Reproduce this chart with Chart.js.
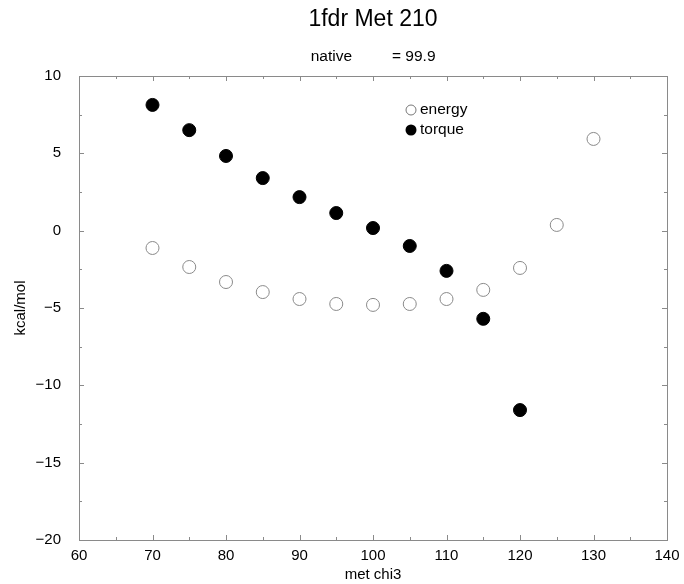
<!DOCTYPE html>
<html>
<head>
<meta charset="utf-8">
<script src="https://cdn.jsdelivr.net/npm/chart.js@4"></script>
<style>
html,body{margin:0;padding:0;background:#fff;}
#wrap{width:684px;height:584px;position:relative;}
</style>
</head>
<body>
<div id="wrap"><canvas id="c" width="684" height="584"></canvas></div>
<script>
const chi3 = [70, 75, 80, 85, 90, 95, 100, 105, 110, 115, 120, 125, 130];
const energy = [-1.12, -2.35, -3.32, -3.97, -4.42, -4.74, -4.8, -4.74, -4.42, -3.83, -2.41, 0.37, 5.93];
const torqueX = [70, 75, 80, 85, 90, 95, 100, 105, 110, 115, 120];
const torque = [8.13, 6.5, 4.83, 3.4, 2.17, 1.14, 0.17, -0.99, -2.6, -5.7, -11.6];
const titleText = "1fdr Met 210";
const subtitleLeft = "native";
const subtitleRight = "= 99.9";
const xLabel = "met chi3";
const yLabel = "kcal/mol";
const seriesNames = ["energy", "torque"];

const FONT = "'Liberation Sans', Arial, Helvetica, sans-serif";

const framePlugin = {
  id: 'frame',
  afterDatasetsDraw(chart) {
    const ctx = chart.ctx, a = chart.chartArea;
    const xs = chart.scales.x, ys = chart.scales.y;
    ctx.save();
    ctx.strokeStyle = '#8a8a8a';
    ctx.lineWidth = 1;
    ctx.strokeRect(Math.round(a.left) + 0.5, Math.round(a.top) + 0.5, Math.round(a.right - a.left), Math.round(a.bottom - a.top));
    ctx.beginPath();
    xs.ticks.forEach(t => {
      const px = Math.round(xs.getPixelForValue(t.value)) + 0.5;
      const len = (Math.abs(t.value % 10) < 1e-6) ? 5 : 3;
      ctx.moveTo(px, a.bottom); ctx.lineTo(px, a.bottom - len);
      ctx.moveTo(px, a.top); ctx.lineTo(px, a.top + len);
    });
    ys.ticks.forEach(t => {
      const py = Math.round(ys.getPixelForValue(t.value)) + 0.5;
      const len = (Math.abs(t.value % 5) < 1e-6) ? 5 : 3;
      ctx.moveTo(a.left, py); ctx.lineTo(a.left + len, py);
      ctx.moveTo(a.right, py); ctx.lineTo(a.right - len, py);
    });
    ctx.stroke();

    // titles
    const cx = (a.left + a.right) / 2;
    ctx.fillStyle = '#000';
    ctx.textBaseline = 'middle';
    ctx.textAlign = 'center';
    ctx.font = "23px " + FONT;
    ctx.fillText(titleText, cx, 20);
    ctx.font = "15.5px " + FONT;
    ctx.textAlign = 'right';
    ctx.fillText(subtitleLeft, cx - 21, 57);
    ctx.textAlign = 'left';
    ctx.fillText(subtitleRight, cx + 19, 57);

    // legend
    ctx.font = "15.5px " + FONT;
    const lx = 411, ly = [110, 130];
    ctx.lineWidth = 1;
    ctx.beginPath(); ctx.arc(lx, ly[0], 5, 0, Math.PI * 2);
    ctx.fillStyle = '#fff'; ctx.fill(); ctx.strokeStyle = '#777'; ctx.stroke();
    ctx.beginPath(); ctx.arc(lx, ly[1], 5.5, 0, Math.PI * 2);
    ctx.fillStyle = '#000'; ctx.fill();
    ctx.fillStyle = '#000';
    ctx.textAlign = 'left';
    ctx.fillText(seriesNames[0], lx + 9, ly[0]);
    ctx.fillText(seriesNames[1], lx + 9, ly[1]);
    ctx.restore();
  }
};

new Chart(document.getElementById('c'), {
  type: 'scatter',
  data: {
    datasets: [
      {
        label: seriesNames[0],
        data: chi3.map((x, i) => ({x: x, y: energy[i]})),
        pointRadius: 6.5,
        pointBackgroundColor: '#fff',
        pointBorderColor: '#8a8a8a',
        pointBorderWidth: 1
      },
      {
        label: seriesNames[1],
        data: torqueX.map((x, i) => ({x: x, y: torque[i]})),
        pointRadius: 6.5,
        pointBackgroundColor: '#000',
        pointBorderColor: '#000',
        pointBorderWidth: 1
      }
    ]
  },
  options: {
    responsive: false,
    animation: false,
    layout: {padding: {left: 0, right: 17, top: 76, bottom: 0}},
    plugins: {legend: {display: false}, tooltip: {enabled: false}, title: {display: false}},
    scales: {
      x: {
        type: 'linear', min: 60, max: 140,
        border: {display: false},
        grid: {display: false},
        ticks: {
          stepSize: 5, autoSkip: false, maxRotation: 0, padding: -1,
          color: '#000', font: {family: FONT, size: 15},
          callback: v => (Math.abs(v % 10) < 1e-6) ? String(v) : ''
        },
        title: {display: true, text: xLabel, color: '#000', font: {family: FONT, size: 15}, padding: {top: 0, bottom: 0}},
        afterFit: s => { s.height = 44; }
      },
      y: {
        type: 'linear', min: -20, max: 10,
        border: {display: false},
        grid: {display: false},
        ticks: {
          stepSize: 2.5, autoSkip: false, padding: 10,
          color: '#000', font: {family: FONT, size: 15},
          callback: v => (Math.abs(v % 5) < 1e-6) ? String(v).replace('-', '\u2212') : ''
        },
        title: {display: true, text: yLabel, color: '#000', font: {family: FONT, size: 15}, padding: {top: 12, bottom: 4}},
        afterFit: s => { s.width = 79; }
      }
    }
  },
  plugins: [framePlugin]
});
</script>
</body>
</html>
